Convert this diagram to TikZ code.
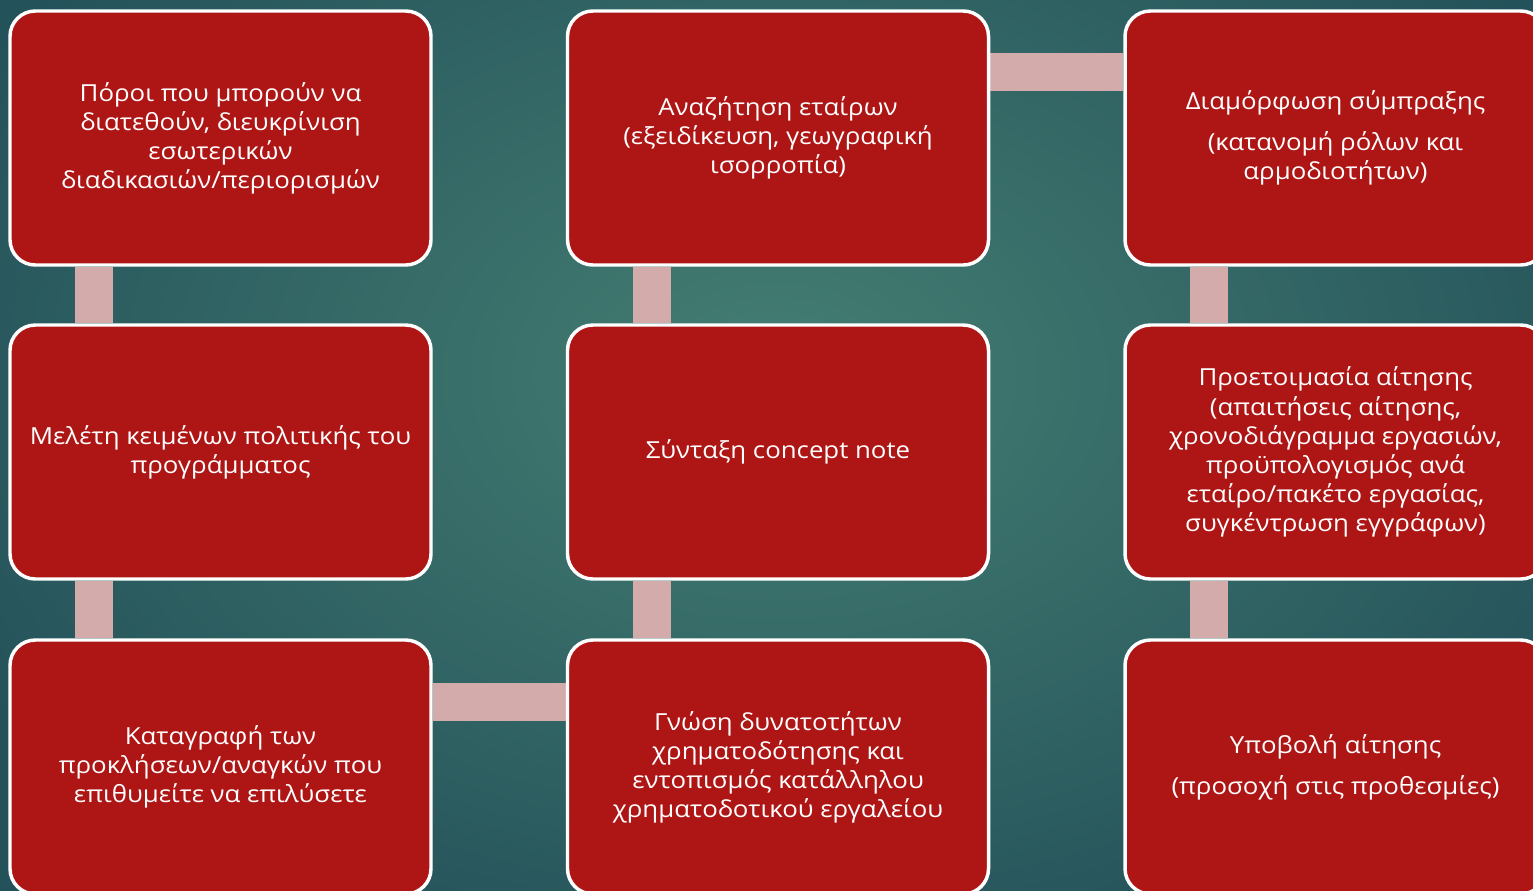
\documentclass[tikz,border=0pt]{standalone}
\usepackage{fontspec}
\setmainfont{Open Sans}[FakeStretch=1.1]
\usetikzlibrary{backgrounds}
\definecolor{boxred}{RGB}{174,22,21}
\definecolor{connpink}{RGB}{212,171,171}
\definecolor{bginner}{RGB}{68,126,114}
\definecolor{bgouter}{RGB}{36,82,90}
\tikzset{
  stepbox/.style={draw=white, line width=2.6pt, fill=boxred, rounded corners=19pt,
    minimum width=315.75pt, minimum height=190.5pt, align=center, text=white,
    font=\fontsize{17.6}{21.8}\selectfont, inner sep=0pt},
  conn/.style={draw=connpink, line width=28.5pt}
}
\begin{document}
\begin{tikzpicture}[x=0.75pt,y=-0.75pt]
\useasboundingbox (0,0) rectangle (1533,890);
\node[stepbox] (a1) at (220.5,138) {Πόροι που μπορούν να\\διατεθούν, διευκρίνιση\\εσωτερικών\\διαδικασιών/περιορισμών};
\node[stepbox] (a2) at (220.5,452) {Μελέτη κειμένων πολιτικής του\\προγράμματος};
\node[stepbox] (a3) at (220.5,767) {Καταγραφή των\\προκλήσεων/αναγκών που\\επιθυμείτε να επιλύσετε};
\node[stepbox] (b1) at (778,138) {Αναζήτηση εταίρων\\(εξειδίκευση, γεωγραφική\\ισορροπία)};
\node[stepbox] (b2) at (778,452) {Σύνταξη concept note};
\node[stepbox] (b3) at (778,767) {Γνώση δυνατοτήτων\\χρηματοδότησης και\\εντοπισμός κατάλληλου\\χρηματοδοτικού εργαλείου};
\node[stepbox] (c1) at (1335.5,138) {Διαμόρφωση σύμπραξης\\[9pt](κατανομή ρόλων και\\αρμοδιοτήτων)};
\node[stepbox] (c2) at (1335.5,452) {Προετοιμασία αίτησης\\(απαιτήσεις αίτησης,\\χρονοδιάγραμμα εργασιών,\\προϋπολογισμός ανά\\εταίρο/πακέτο εργασίας,\\συγκέντρωση εγγράφων)};
\node[stepbox] (c3) at (1335.5,767) {Υποβολή αίτησης\\[9pt](προσοχή στις προθεσμίες)};
\begin{scope}[on background layer]
\shade[inner color=bginner, outer color=bgouter] (-150,-250) rectangle (1700,1000);
\draw[conn] ([xshift=64.5pt]a1.south west) -- ([xshift=64.5pt]a2.north west);
\draw[conn] ([xshift=64.5pt]a2.south west) -- ([xshift=64.5pt]a3.north west);
\draw[conn] ([yshift=-47.5pt]a3.north east) -- ([yshift=-47.5pt]b3.north west);
\draw[conn] ([xshift=64.5pt]b3.north west) -- ([xshift=64.5pt]b2.south west);
\draw[conn] ([xshift=64.5pt]b2.north west) -- ([xshift=64.5pt]b1.south west);
\draw[conn] ([yshift=-47pt]b1.north east) -- ([yshift=-47pt]c1.north west);
\draw[conn] ([xshift=64.5pt]c1.south west) -- ([xshift=64.5pt]c2.north west);
\draw[conn] ([xshift=64.5pt]c2.south west) -- ([xshift=64.5pt]c3.north west);
\end{scope}
\end{tikzpicture}
\end{document}
